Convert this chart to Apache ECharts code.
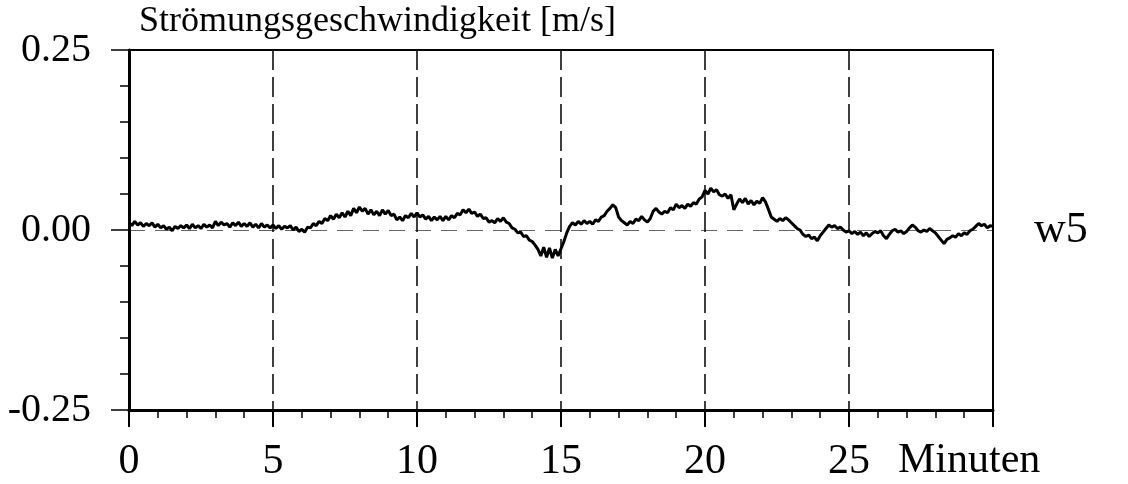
<!DOCTYPE html>
<html>
<head>
<meta charset="utf-8">
<script src="https://cdn.jsdelivr.net/npm/echarts@6/dist/echarts.min.js"></script>
<style>
  html, body { margin: 0; padding: 0; background: #fff; }
  #chart { width: 1128px; height: 484px; }
</style>
</head>
<body>
<div id="chart"></div>
<script>
// ---- data ----
const titleText = 'Strömungsgeschwindigkeit [m/s]';
const xUnitText = 'Minuten';
const seriesName = 'w5';
const timeStepMinutes = 0.1;   // one sample every 0.1 minute, starting at 0
const yTicks = [-0.25, 0.00, 0.25];
const xTicks = [0, 5, 10, 15, 20, 25];
const velocity = [
  0.011, 0.006, 0.012, 0.007, 0.010, 0.005, 0.009, 0.006, 0.010, 0.004,
  0.008, 0.003, 0.006, 0.001, 0.004, -0.001, 0.005, 0.002, 0.006, 0.003,
  0.007, 0.002, 0.008, 0.003, 0.006, 0.002, 0.008, 0.004, 0.007, 0.003,
  0.012, 0.006, 0.011, 0.007, 0.009, 0.004, 0.010, 0.006, 0.011, 0.005,
  0.009, 0.005, 0.010, 0.004, 0.008, 0.003, 0.009, 0.004, 0.007, 0.003,
  0.007, 0.002, 0.006, 0.001, 0.005, 0.003, 0.006, 0.000, 0.004, -0.002,
  0.001, -0.003, 0.004, 0.003, 0.009, 0.006, 0.012, 0.009, 0.016, 0.013,
  0.020, 0.015, 0.022, 0.017, 0.024, 0.018, 0.026, 0.020, 0.030, 0.024,
  0.032, 0.026, 0.030, 0.022, 0.028, 0.021, 0.026, 0.020, 0.028, 0.022,
  0.027, 0.020, 0.022, 0.014, 0.018, 0.013, 0.020, 0.017, 0.023, 0.018,
  0.024, 0.018, 0.021, 0.015, 0.019, 0.013, 0.018, 0.014, 0.019, 0.013,
  0.019, 0.014, 0.020, 0.017, 0.023, 0.021, 0.028, 0.024, 0.029, 0.023,
  0.025, 0.019, 0.022, 0.016, 0.017, 0.011, 0.013, 0.010, 0.016, 0.012,
  0.017, 0.011, 0.009, 0.003, 0.001, -0.004, -0.003, -0.009, -0.008, -0.014,
  -0.016, -0.021, -0.027, -0.036, -0.024, -0.038, -0.025, -0.039, -0.027, -0.036,
  -0.026, -0.016, -0.004, 0.005, 0.010, 0.007, 0.012, 0.008, 0.013, 0.009,
  0.012, 0.008, 0.014, 0.012, 0.018, 0.020, 0.026, 0.030, 0.035, 0.031,
  0.018, 0.013, 0.010, 0.007, 0.012, 0.009, 0.015, 0.013, 0.019, 0.014,
  0.011, 0.016, 0.026, 0.030, 0.025, 0.022, 0.026, 0.024, 0.031, 0.028,
  0.036, 0.031, 0.034, 0.030, 0.036, 0.033, 0.038, 0.036, 0.043, 0.046,
  0.055, 0.050, 0.058, 0.053, 0.056, 0.049, 0.047, 0.050, 0.044, 0.049,
  0.028, 0.036, 0.043, 0.038, 0.044, 0.036, 0.041, 0.035, 0.040, 0.037,
  0.045, 0.039, 0.029, 0.018, 0.015, 0.012, 0.016, 0.013, 0.017, 0.014,
  0.010, 0.006, 0.002, 0.000, -0.006, -0.009, -0.007, -0.012, -0.010, -0.015,
  -0.008, -0.003, 0.002, 0.007, 0.004, 0.006, 0.002, 0.004, 0.000, -0.003,
  -0.001, -0.005, -0.002, -0.006, -0.003, -0.008, -0.004, -0.009, -0.005, -0.002,
  -0.004, -0.001, -0.008, -0.012, -0.006, -0.001, 0.001, -0.003, -0.001, -0.005,
  -0.002, 0.003, 0.007, 0.004, -0.001, -0.003, 0.000, -0.002, 0.002, -0.001,
  -0.004, -0.009, -0.014, -0.019, -0.013, -0.011, -0.008, -0.010, -0.005, -0.008,
  -0.004, -0.006, -0.001, 0.001, 0.005, 0.009, 0.006, 0.008, 0.003, 0.006,
  0.005
];

// ---- chart ----
const FONT = '"Liberation Serif", "DejaVu Serif", serif';
const chart = echarts.init(document.getElementById('chart'), null, { renderer: 'canvas' });
const seriesData = velocity.map((v, i) => [i * timeStepMinutes, v]);

const option = {
  animation: false,
  backgroundColor: '#ffffff',
  grid: { left: 129, right: 135, top: 50, bottom: 74, containLabel: false },
  xAxis: [
    {
      type: 'value', position: 'bottom', min: 0, max: 30, interval: 5,
      axisLine: { show: true, onZero: false, lineStyle: { color: '#000', width: 3 } },
      axisTick: { show: true, length: 17, lineStyle: { color: '#000', width: 2 } },
      minorTick: { show: true, splitNumber: 5, length: 8, lineStyle: { color: '#000', width: 1.5 } },
      splitLine: { show: true, lineStyle: { color: '#000', width: 1.5, type: [20, 7] } },
      axisLabel: {
        show: true, margin: 31, color: '#000', fontFamily: FONT, fontSize: 42,
        formatter: v => (xTicks.indexOf(v) >= 0 ? String(v) : '')
      }
    },
    {
      type: 'value', position: 'top', min: 0, max: 30,
      axisLine: { show: true, onZero: false, lineStyle: { color: '#000', width: 2 } },
      axisTick: { show: false }, axisLabel: { show: false }, splitLine: { show: false }
    }
  ],
  yAxis: [
    {
      type: 'value', position: 'left', min: -0.25, max: 0.25, interval: 0.25,
      axisLine: { show: true, onZero: false, lineStyle: { color: '#000', width: 3 } },
      axisTick: { show: true, length: 18, lineStyle: { color: '#000', width: 1.5 } },
      minorTick: { show: true, splitNumber: 5, length: 9, lineStyle: { color: '#000', width: 1.5 } },
      splitLine: { show: true, lineStyle: { color: '#666', width: 1, type: [16, 10] } },
      axisLabel: {
        show: true, margin: 38, color: '#000', fontFamily: FONT, fontSize: 40,
        formatter: v => (yTicks.some(t => Math.abs(t - v) < 1e-9) ? v.toFixed(2) : '')
      }
    },
    {
      type: 'value', position: 'right', min: -0.25, max: 0.25,
      axisLine: { show: true, onZero: false, lineStyle: { color: '#000', width: 2 } },
      axisTick: { show: false }, axisLabel: { show: false }, splitLine: { show: false }
    }
  ],
  series: [
    {
      name: seriesName, type: 'line', xAxisIndex: 0, yAxisIndex: 0,
      data: seriesData, showSymbol: false, symbol: 'none', sampling: null,
      lineStyle: { color: '#000', width: 3 }, z: 5
    }
  ],
  graphic: [
    {
      type: 'text', left: 139, top: 4,
      style: { text: titleText, fill: '#000', font: '36px ' + FONT }
    },
    {
      type: 'text', left: 898, top: 440,
      style: { text: xUnitText, fill: '#000', font: '42px ' + FONT }
    },
    {
      type: 'text', left: 1034, top: 208,
      style: { text: seriesName, fill: '#000', font: '44px ' + FONT }
    }
  ]
};
chart.setOption(option);
</script>
</body>
</html>
